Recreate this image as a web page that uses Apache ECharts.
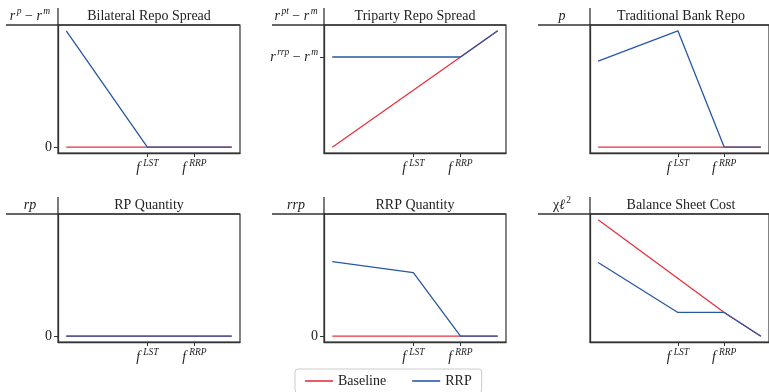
<!DOCTYPE html>
<html>
<head>
<meta charset="utf-8">
<script src="https://cdn.jsdelivr.net/npm/echarts@6/dist/echarts.min.js"></script>
<style>
  html, body { margin: 0; padding: 0; background: #fff; }
  #chart { width: 769px; height: 392px; }
</style>
</head>
<body>
<div id="chart"></div>
<script>
// Funding-rate positions on the horizontal axis (normalised)
const fLST = 0.49;
const fRRP = 0.775;
const knots = [0, fLST, fRRP, 1];
const xTickLabels = ['LST', 'RRP'];

// Panel values at each knot (null = no vertex there)
const bilateralBaseline = [0, 0, 0, 0];
const bilateralRRP      = [1, 0, 0, 0];
const tripartyBaseline  = [0, null, 0.775, 1];
const tripartyRRP       = [0.775, 0.775, 0.775, 1];
const bankBaseline      = [0, 0, 0, 0];
const bankRRP           = [0.74, 1, 0, 0];
const rpBaseline        = [0, 0, 0, 0];
const rpRRP             = [0, 0, 0, 0];
const rrpBaseline       = [0, 0, 0, 0];
const rrpRRP            = [0.64, 0.546, 0, 0];
const costBaseline      = [1, null, 0.204, 0];
const costRRP           = [0.633, 0.204, 0.204, 0];

const panelTitles = ['Bilateral Repo Spread', 'Triparty Repo Spread', 'Traditional Bank Repo',
                     'RP Quantity', 'RRP Quantity', 'Balance Sheet Cost'];
// y-axis names as rich text
const yNames = [
  '{i|r}{s|p}{n| − }{i|r}{s|m}',
  '{i|r}{s|pt}{n| − }{i|r}{s|m}',
  '{i|p}',
  '{i|rp}',
  '{i|rrp}',
  '{n|χ}{i|ℓ}{s2|2}'
];
// y tick values and their labels per panel
const yTicks = [[0], [0.775], [], [0], [0], []];
const yTickText = [['0'], ['{i|r}{s|rrp}{n| − }{i|r}{s|m}'], [], ['0'], ['0'], []];

const seriesPairs = [
  [bilateralBaseline, bilateralRRP],
  [tripartyBaseline, tripartyRRP],
  [bankBaseline, bankRRP],
  [rpBaseline, rpRRP],
  [rrpBaseline, rrpRRP],
  [costBaseline, costRRP]
];

const RED = '#e8323e';
const BLUE = '#2857a4';
const AX = '#333';
const SERIF = '"Liberation Serif", "DejaVu Serif", serif';

// layout of the 2x3 grid of panels
const colLeft = [58, 324, 590];
const rowTop = [25, 214];
const gw = 182, gh = 128;

const rich = {
  i: { fontFamily: SERIF, fontStyle: 'italic', fontSize: 14, color: '#222', lineHeight: 20 },
  n: { fontFamily: SERIF, fontSize: 14, color: '#222', lineHeight: 20 },
  s: { fontFamily: SERIF, fontStyle: 'italic', fontSize: 9.5, color: '#222', lineHeight: 9,
       verticalAlign: 'top', padding: [0, 0, 0, 1.5] },
  fs: { fontFamily: SERIF, fontStyle: 'italic', fontSize: 9.5, color: '#222', lineHeight: 9,
        verticalAlign: 'top', padding: [0, 0, 0, 3] },
  s2: { fontFamily: SERIF, fontSize: 9.5, color: '#222', lineHeight: 9, verticalAlign: 'top',
        padding: [0, 0, 0, 1] }
};

const grids = [], xAxes = [], yAxes = [], series = [], graphics = [];

for (let p = 0; p < 6; p++) {
  const left = colLeft[p % 3];
  const top = rowTop[Math.floor(p / 3)];
  grids.push({
    left: left, top: top, width: gw, height: gh,
    show: true, borderColor: AX, borderWidth: 1.2, backgroundColor: 'transparent'
  });
  xAxes.push({
    type: 'value', gridIndex: p, min: -0.05, max: 1.05,
    axisLine: { show: true, onZero: false, lineStyle: { color: AX, width: 1.3 } },
    axisTick: { show: true, customValues: [fLST, fRRP], length: 4, lineStyle: { color: AX, width: 1 } },
    axisLabel: {
      show: true, customValues: [fLST, fRRP], margin: 5,
      formatter: function (v) {
        const k = Math.abs(v - fLST) < 1e-6 ? 0 : 1;
        return '{i|f}{fs|' + xTickLabels[k] + '}';
      },
      rich: rich
    },
    splitLine: { show: false }
  });
  const hasY = yTicks[p].length > 0;
  yAxes.push({
    type: 'value', gridIndex: p, min: -0.05, max: 1.05,
    axisLine: { show: true, onZero: false, lineStyle: { color: AX, width: 1.3 } },
    axisTick: { show: hasY, customValues: yTicks[p], length: 4, lineStyle: { color: AX, width: 1 } },
    axisLabel: {
      show: hasY, customValues: yTicks[p], margin: 6,
      formatter: function (v) {
        const k = yTicks[p].findIndex(t => Math.abs(t - v) < 1e-6);
        return k >= 0 ? yTickText[p][k] : '';
      },
      fontFamily: SERIF, fontSize: 14, color: '#222',
      rich: rich
    },
    splitLine: { show: false }
  });
  const pair = seriesPairs[p];
  ['Baseline', 'RRP'].forEach(function (name, j) {
    series.push({
      name: name, type: 'line', xAxisIndex: p, yAxisIndex: p,
      data: knots.map((x, k) => pair[j][k] == null ? null : [x, pair[j][k]]).filter(Boolean),
      symbol: 'none', showSymbol: false,
      lineStyle: { color: j === 0 ? RED : BLUE, width: 1.3 },
      itemStyle: { color: j === 0 ? RED : BLUE },
      z: 2 + j, animation: false
    });
  });
  // header rule and upward extension of the y axis
  graphics.push({
    type: 'line', shape: { x1: left - 52, y1: top, x2: left + gw, y2: top },
    style: { stroke: AX, lineWidth: 1.3 }, silent: true
  });
  graphics.push({
    type: 'line', shape: { x1: left, y1: top - 17, x2: left, y2: top },
    style: { stroke: AX, lineWidth: 1.3 }, silent: true
  });
  graphics.push({
    type: 'text', x: left + gw / 2, y: top - 9,
    style: { text: panelTitles[p], font: '14px ' + SERIF, fill: '#222', align: 'center', verticalAlign: 'middle' },
    silent: true
  });
  graphics.push({
    type: 'text', x: left - 28, y: top - 9,
    style: { text: yNames[p], rich: rich, fill: '#222', align: 'center', verticalAlign: 'middle' },
    silent: true
  });
}

const chart = echarts.init(document.getElementById('chart'), null, { renderer: 'canvas' });
chart.setOption({
  animation: false,
  backgroundColor: '#fff',
  grid: grids,
  xAxis: xAxes,
  yAxis: yAxes,
  series: series,
  graphic: graphics,
  legend: {
    data: ['Baseline', 'RRP'],
    left: 295, top: 369,
    icon: 'rect',
    itemWidth: 28, itemHeight: 1.6, itemGap: 26,
    padding: [5, 10],
    borderColor: '#ccc', borderWidth: 1, borderRadius: 3,
    textStyle: { fontFamily: SERIF, fontSize: 14, color: '#222', lineHeight: 12 }
  }
});
</script>
</body>
</html>
